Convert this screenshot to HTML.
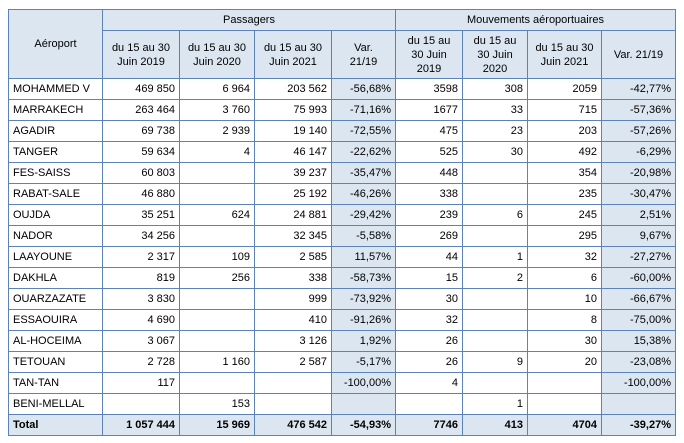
<!DOCTYPE html>
<html><head><meta charset="utf-8"><style>
html,body{margin:0;padding:0;background:#fff;width:684px;height:443px;overflow:hidden}
table{position:absolute;left:8px;top:9px;border-collapse:collapse;table-layout:fixed;font-family:"Liberation Sans",Arial,sans-serif;font-size:11px;color:#000}
td{border:1px solid #5b83b8;padding:0 4px;white-space:nowrap;overflow:hidden;height:20px;line-height:13px}
.h{background:#dce6f1;text-align:center;white-space:normal;line-height:14px}
.n{text-align:right}
.v{background:#dce6f1;text-align:right}
.t td{background:#dce6f1;font-weight:bold}
.l{text-align:left}
</style></head><body>
<table>
<colgroup><col style="width:94px"><col style="width:77px"><col style="width:75px"><col style="width:77px"><col style="width:64px"><col style="width:67px"><col style="width:65px"><col style="width:74px"><col style="width:74px"></colgroup>
<tr style="height:21px"><td class="h" rowspan="2">Aéroport</td><td class="h" colspan="4">Passagers</td><td class="h" colspan="4">Mouvements aéroportuaires</td></tr>
<tr style="height:48px"><td class="h">du 15 au 30 Juin 2019</td><td class="h">du 15 au 30 Juin 2020</td><td class="h">du 15 au 30 Juin 2021</td><td class="h">Var.<br>21/19</td><td class="h">du 15 au<br>30 Juin<br>2019</td><td class="h">du 15 au<br>30 Juin<br>2020</td><td class="h">du 15 au 30 Juin 2021</td><td class="h">Var. 21/19</td></tr>
<tr><td>MOHAMMED V</td><td class="n">469 850</td><td class="n">6 964</td><td class="n">203 562</td><td class="v">-56,68%</td><td class="n">3598</td><td class="n">308</td><td class="n">2059</td><td class="v">-42,77%</td></tr>
<tr><td>MARRAKECH</td><td class="n">263 464</td><td class="n">3 760</td><td class="n">75 993</td><td class="v">-71,16%</td><td class="n">1677</td><td class="n">33</td><td class="n">715</td><td class="v">-57,36%</td></tr>
<tr><td>AGADIR</td><td class="n">69 738</td><td class="n">2 939</td><td class="n">19 140</td><td class="v">-72,55%</td><td class="n">475</td><td class="n">23</td><td class="n">203</td><td class="v">-57,26%</td></tr>
<tr><td>TANGER</td><td class="n">59 634</td><td class="n">4</td><td class="n">46 147</td><td class="v">-22,62%</td><td class="n">525</td><td class="n">30</td><td class="n">492</td><td class="v">-6,29%</td></tr>
<tr><td>FES-SAISS</td><td class="n">60 803</td><td class="n"></td><td class="n">39 237</td><td class="v">-35,47%</td><td class="n">448</td><td class="n"></td><td class="n">354</td><td class="v">-20,98%</td></tr>
<tr><td>RABAT-SALE</td><td class="n">46 880</td><td class="n"></td><td class="n">25 192</td><td class="v">-46,26%</td><td class="n">338</td><td class="n"></td><td class="n">235</td><td class="v">-30,47%</td></tr>
<tr><td>OUJDA</td><td class="n">35 251</td><td class="n">624</td><td class="n">24 881</td><td class="v">-29,42%</td><td class="n">239</td><td class="n">6</td><td class="n">245</td><td class="v">2,51%</td></tr>
<tr><td>NADOR</td><td class="n">34 256</td><td class="n"></td><td class="n">32 345</td><td class="v">-5,58%</td><td class="n">269</td><td class="n"></td><td class="n">295</td><td class="v">9,67%</td></tr>
<tr><td>LAAYOUNE</td><td class="n">2 317</td><td class="n">109</td><td class="n">2 585</td><td class="v">11,57%</td><td class="n">44</td><td class="n">1</td><td class="n">32</td><td class="v">-27,27%</td></tr>
<tr><td>DAKHLA</td><td class="n">819</td><td class="n">256</td><td class="n">338</td><td class="v">-58,73%</td><td class="n">15</td><td class="n">2</td><td class="n">6</td><td class="v">-60,00%</td></tr>
<tr><td>OUARZAZATE</td><td class="n">3 830</td><td class="n"></td><td class="n">999</td><td class="v">-73,92%</td><td class="n">30</td><td class="n"></td><td class="n">10</td><td class="v">-66,67%</td></tr>
<tr><td>ESSAOUIRA</td><td class="n">4 690</td><td class="n"></td><td class="n">410</td><td class="v">-91,26%</td><td class="n">32</td><td class="n"></td><td class="n">8</td><td class="v">-75,00%</td></tr>
<tr><td>AL-HOCEIMA</td><td class="n">3 067</td><td class="n"></td><td class="n">3 126</td><td class="v">1,92%</td><td class="n">26</td><td class="n"></td><td class="n">30</td><td class="v">15,38%</td></tr>
<tr><td>TETOUAN</td><td class="n">2 728</td><td class="n">1 160</td><td class="n">2 587</td><td class="v">-5,17%</td><td class="n">26</td><td class="n">9</td><td class="n">20</td><td class="v">-23,08%</td></tr>
<tr><td>TAN-TAN</td><td class="n">117</td><td class="n"></td><td class="n"></td><td class="v">-100,00%</td><td class="n">4</td><td class="n"></td><td class="n"></td><td class="v">-100,00%</td></tr>
<tr><td>BENI-MELLAL</td><td class="n"></td><td class="n">153</td><td class="n"></td><td class="v"></td><td class="n"></td><td class="n">1</td><td class="n"></td><td class="v"></td></tr>
<tr class="t"><td class="l">Total</td><td class="n">1 057 444</td><td class="n">15 969</td><td class="n">476 542</td><td class="n">-54,93%</td><td class="n">7746</td><td class="n">413</td><td class="n">4704</td><td class="n">-39,27%</td></tr>
</table>
</body></html>
